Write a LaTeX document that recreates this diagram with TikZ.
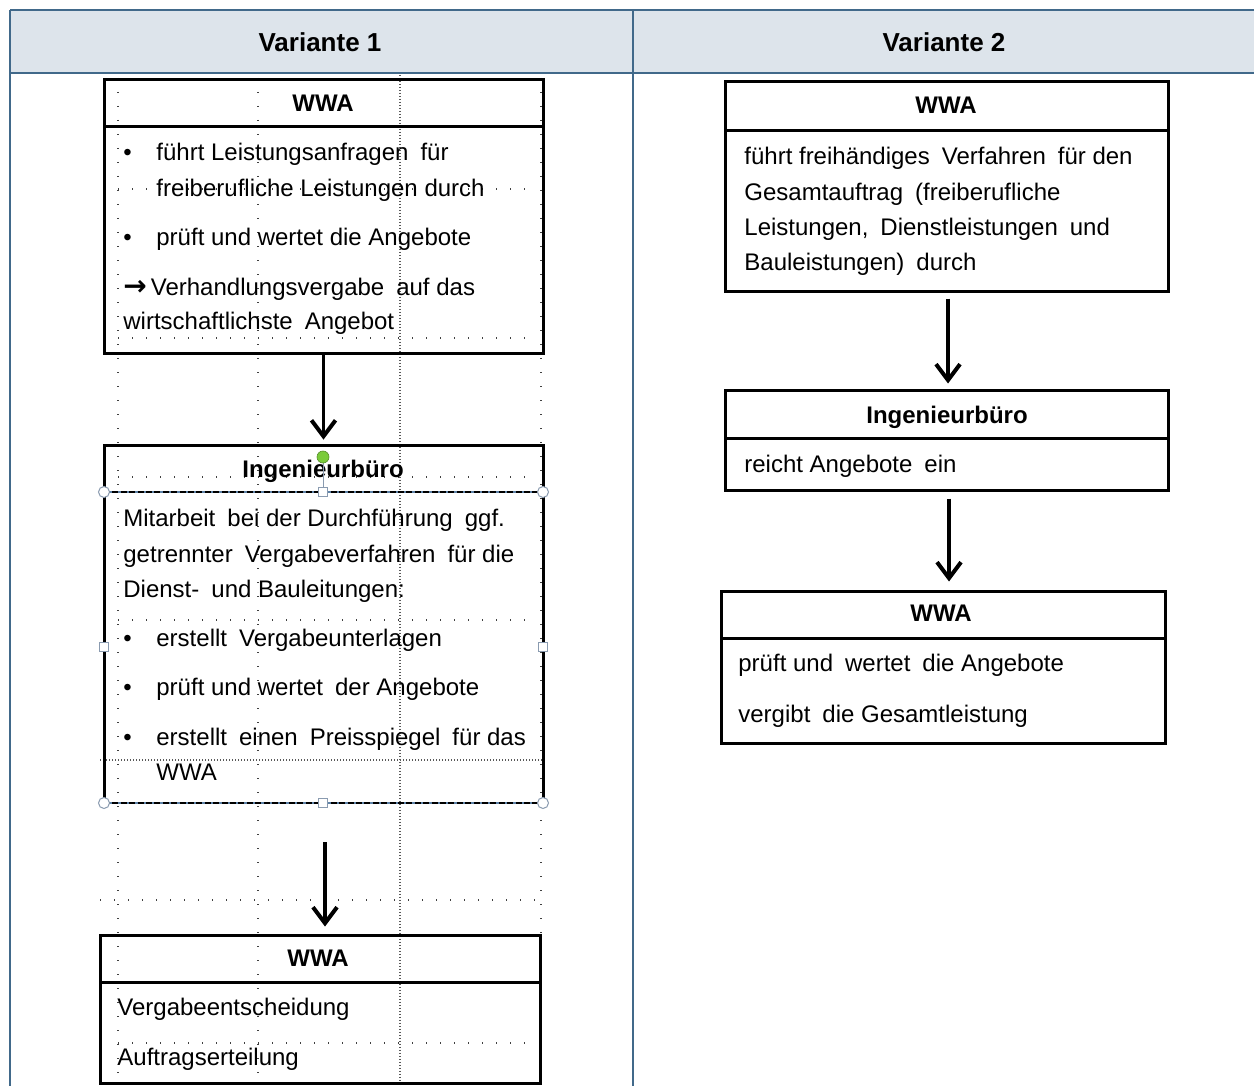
\documentclass[tikz,border=0pt]{standalone}
\usepackage{fontspec}
\setmainfont{Liberation Sans}
\newfontfamily\arrowfont{DejaVu Sans}
\usetikzlibrary{arrows.meta}
\definecolor{tblborder}{HTML}{41698A}
\definecolor{tblhead}{HTML}{DDE4EB}
\definecolor{selblue}{HTML}{5F83A8}
\definecolor{handlegray}{HTML}{8A9BB0}
\definecolor{rotgreen}{HTML}{7ACB3A}
\begin{document}
\begin{tikzpicture}[x=0.5pt,y=-0.5pt,
  box/.style={draw=black, line width=1.5pt, rectangle, inner sep=0pt},
  ttl/.style={font=\fontsize{12}{14}\selectfont\bfseries, inner sep=0pt, text height=1.6ex, text depth=0.4ex},
  txt/.style={font=\fontsize{12}{14}\selectfont, inner sep=0pt, anchor=west, text height=1.6ex, text depth=0.45ex},
  hdr/.style={font=\fontsize{13}{15}\selectfont\bfseries, inner sep=0pt},
  flow/.style={line width=1.6pt, -{Straight Barb[length=8pt,width=12pt,line width=2pt]}},
  sdot/.style={line width=0.7pt, dash pattern=on 0.7pt off 6.3pt, black!75},
  ddot/.style={line width=0.6pt, dash pattern=on 0.6pt off 0.9pt, black!65},
  tblline/.style={draw=tblborder, line width=1pt},
  hround/.style={circle, draw=handlegray, fill=white, line width=0.5pt, minimum size=5.5pt, inner sep=0pt},
  hsquare/.style={rectangle, draw=handlegray, fill=white, line width=0.5pt, minimum size=4.5pt, inner sep=0pt},
]
\useasboundingbox (0,0) rectangle (1254,1086);
\fill[white] (0,0) rectangle (1254,1086);

% table
\fill[tblhead] (10,10) rectangle (1254,73);
\draw[tblline] (10,10) -- (1254,10);
\draw[tblline] (10,73) -- (1254,73);
\draw[tblline] (10,10) -- (10,1086);
\draw[tblline] (633,10) -- (633,1086);
\node[hdr] (h1) at (320,42) {Variante 1};
\node[hdr] (h2) at (944,42) {Variante 2};

% dotted gridlines (left column)
\foreach \gx in {118,258,541} \draw[sdot] (\gx,78) -- (\gx,1086);
\draw[ddot] (400,75) -- (400,1086);
\foreach \gy in {189,338,477,620,1043} \draw[sdot] (118,\gy) -- (530,\gy);
\draw[sdot] (100,900) -- (543,900);
\draw[ddot] (100,760) -- (543,760);

% ---------- Variante 1 ----------
\node[box, minimum width=219.5pt, minimum height=136.5pt] (v1a) at (323.5,216.5) {};
\draw[line width=1.5pt] (104,127) -- (543,127);
\node[ttl] (v1at) at (323,105) {WWA};
\node[txt] (v1a1b) at (123,154) {•};
\node[txt] (v1a1) at (156,154) {führt Leistungsanfragen\enspace für};
\node[txt] (v1a2) at (156,190) {freiberufliche Leistungen durch};
\node[txt] (v1a3b) at (123,239) {•};
\node[txt] (v1a3) at (156,239) {prüft und wertet die Angebote};
\node[txt] (v1a4) at (123,289) {{\arrowfont\bfseries\fontsize{14}{14}\selectfont →}\,Verhandlungsvergabe\enspace auf das};
\node[txt] (v1a5) at (123,323) {wirtschaftlichste\enspace Angebot};

\node[minimum width=219.5pt, minimum height=179pt, inner sep=0pt] (v1b) at (323.5,624) {};
\draw[line width=1.5pt] (104,492) -- (104,445) -- (543,445) -- (543,492);
\draw[line width=1.5pt] (104,492) -- (104,803);
\draw[line width=1.5pt] (543,492) -- (543,803);
\draw[selblue, line width=0.6pt] (104,492) -- (543,492);
\draw[selblue, line width=0.6pt] (104,803) -- (543,803);
\draw[black, line width=1.4pt, dash pattern=on 3pt off 1.2pt] (104,492) -- (543,492);
\draw[black, line width=1.4pt, dash pattern=on 3pt off 1.2pt] (104,803) -- (543,803);
\node[ttl] (v1bt) at (323,471) {Ingenieurbüro};
\node[txt] (v1b1) at (123,520) {Mitarbeit\enspace bei der Durchführung\enspace ggf.};
\node[txt] (v1b2) at (123,556) {getrennter\enspace Vergabeverfahren\enspace für die};
\node[txt] (v1b3) at (123,591) {Dienst-\enspace und Bauleitungen:};
\node[txt] (v1b4b) at (123,640) {•};
\node[txt] (v1b4) at (156,640) {erstellt\enspace Vergabeunterlagen};
\node[txt] (v1b5b) at (123,689) {•};
\node[txt] (v1b5) at (156,689) {prüft und wertet\enspace der Angebote};
\node[txt] (v1b6b) at (123,739) {•};
\node[txt] (v1b6) at (156,739) {erstellt\enspace einen\enspace Preisspiegel\enspace für das};
\node[txt] (v1b7) at (156,774) {WWA};

\node[box, minimum width=220pt, minimum height=74pt] (v1c) at (320,1009) {};
\draw[line width=1.5pt] (100,982) -- (540,982);
\node[ttl] (v1ct) at (318,960) {WWA};
\node[txt] (v1c1) at (117,1009) {Vergabeentscheidung};
\node[txt] (v1c2) at (117,1059) {Auftragserteilung};

\draw[flow, shorten >=2.5pt] (v1a.south) -- (v1b.north);
\draw[flow, shorten <=19.5pt, shorten >=3.5pt] ([xshift=0.75pt]v1b.south) -- ([xshift=0.75pt]v1b.south |- v1c.north);

% selection handles
\draw[handlegray, line width=0.5pt] (323,457) -- (323,492);
\node[circle, fill=rotgreen, draw=rotgreen!70!black, line width=0.3pt, minimum size=6pt, inner sep=0pt] (rot) at (323,457) {};
\node[hround] (hc1) at (104,492) {};
\node[hround] (hc2) at (543,492) {};
\node[hround] (hc3) at (104,803) {};
\node[hround] (hc4) at (543,803) {};
\node[hsquare] (hs1) at (323,492) {};
\node[hsquare] (hs2) at (323,803) {};
\node[hsquare] (hs3) at (104,647) {};
\node[hsquare] (hs4) at (543,647) {};

% ---------- Variante 2 ----------
\node[box, minimum width=221.5pt, minimum height=104.5pt] (v2a) at (946.5,186.5) {};
\draw[line width=1.5pt] (725,131) -- (1168,131);
\node[ttl] (v2at) at (946,107) {WWA};
\node[txt] (v2a1) at (744,158) {führt freihändiges\enspace Verfahren\enspace für den};
\node[txt] (v2a2) at (744,194) {Gesamtauftrag\enspace (freiberufliche};
\node[txt] (v2a3) at (744,229) {Leistungen,\enspace Dienstleistungen\enspace und};
\node[txt] (v2a4) at (744,264) {Bauleistungen)\enspace durch};

\node[box, minimum width=221.5pt, minimum height=50pt] (v2b) at (946.5,440) {};
\draw[line width=1.5pt] (725,438) -- (1168,438);
\node[ttl] (v2bt) at (947,417) {Ingenieurbüro};
\node[txt] (v2b1) at (744,466) {reicht Angebote\enspace ein};

\node[box, minimum width=222pt, minimum height=76pt] (v2c) at (943,667) {};
\draw[line width=1.5pt] (721,638) -- (1165,638);
\node[ttl] (v2ct) at (941,615) {WWA};
\node[txt] (v2c1) at (738,665) {prüft und\enspace wertet\enspace die Angebote};
\node[txt] (v2c2) at (738,716) {vergibt\enspace die Gesamtleistung};

\draw[flow, shorten <=3pt, shorten >=2.5pt] ([xshift=0.75pt]v2a.south) -- ([xshift=0.75pt]v2a.south |- v2b.north);
\draw[flow, shorten <=3.5pt, shorten >=4pt] ([xshift=1.25pt]v2b.south) -- ([xshift=1.25pt]v2b.south |- v2c.north);
\end{tikzpicture}
\end{document}
